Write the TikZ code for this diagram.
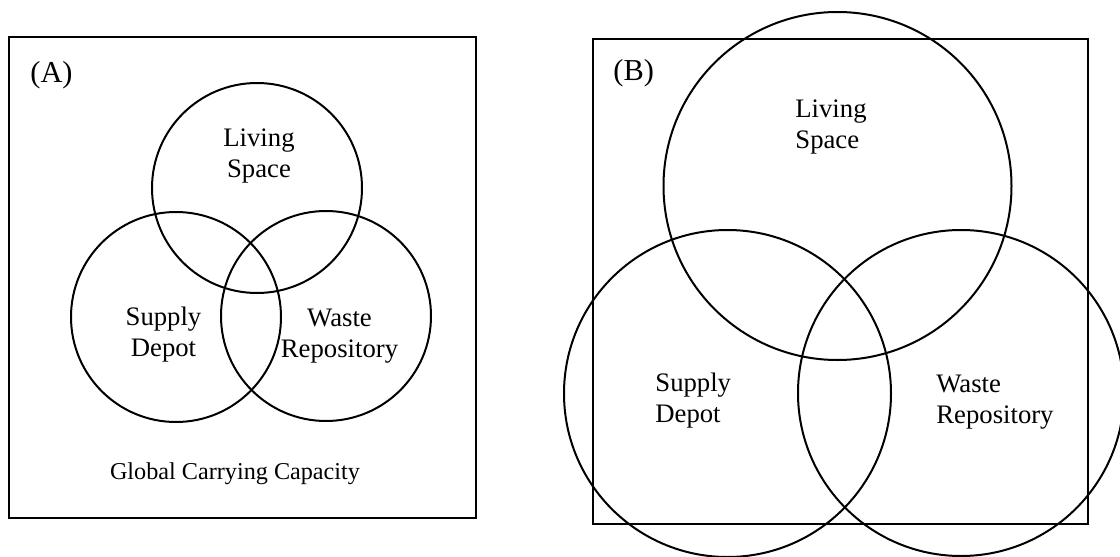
\documentclass[tikz,border=0pt]{standalone}
\usepackage{fontspec}
\setmainfont{Liberation Serif}
\usetikzlibrary{positioning}
\tikzset{
    venn/.style={
        circle,
        draw=black,
        line width=1pt,
        inner sep=0pt,
        outer sep=0pt
    },
    frame/.style={
        draw=black,
        line width=1pt
    },
    tag/.style={
        font=\fontsize{13.35}{15.5}\selectfont,
        inner sep=0pt,
        anchor=base
    },
    panel/.style={
        tag,
        font=\fontsize{15.2}{18}\selectfont,
        anchor=base west
    }
}

\begin{document}
\begin{tikzpicture}[x=0.5pt, y=-0.5pt]
    \useasboundingbox (0,0) rectangle (1120,557);

    % Panel A
    \draw[frame] (9.3,37.3) rectangle (476,517.5);
    \node[venn, minimum size=105pt] (livingA) at (257,188) {};
    \node[venn, minimum size=105pt] (supplyA) at (176,317) {};
    \node[venn, minimum size=105pt] (wasteA) at (326,316) {};
    \node[panel] (tagA) at (30,83) {(A)};
    \node[tag, align=center] (livingAtxt) at (259,177) {Living\\Space};
    \node[tag, align=center] (supplyAtxt) at (163.5,356) {Supply\\Depot};
    \node[tag, align=center] (wasteAtxt) at (339.5,357) {Waste\\Repository};
    \node[tag, font=\fontsize{12.1}{14}\selectfont] (capacity) at (235,479) {Global Carrying Capacity};

    % Panel B
    \draw[frame] (593,38.5) rectangle (1088.3,524.3);
    \node[venn, minimum size=174pt] (livingB) at (837.5,186) {};
    \node[venn, minimum size=163.5pt] (supplyB) at (727.5,393.5) {};
    \node[venn, minimum size=163pt] (wasteB) at (961,393) {};
    \node[panel] (tagB) at (613,80) {(B)};
    \node[tag, align=left, anchor=base west] (livingBtxt) at (795,148) {Living\\Space};
    \node[tag, align=left, anchor=base west] (supplyBtxt) at (655,422.7) {Supply\\Depot};
    \node[tag, align=left, anchor=base west] (wasteBtxt) at (936,423) {Waste\\Repository};
\end{tikzpicture}
\end{document}
